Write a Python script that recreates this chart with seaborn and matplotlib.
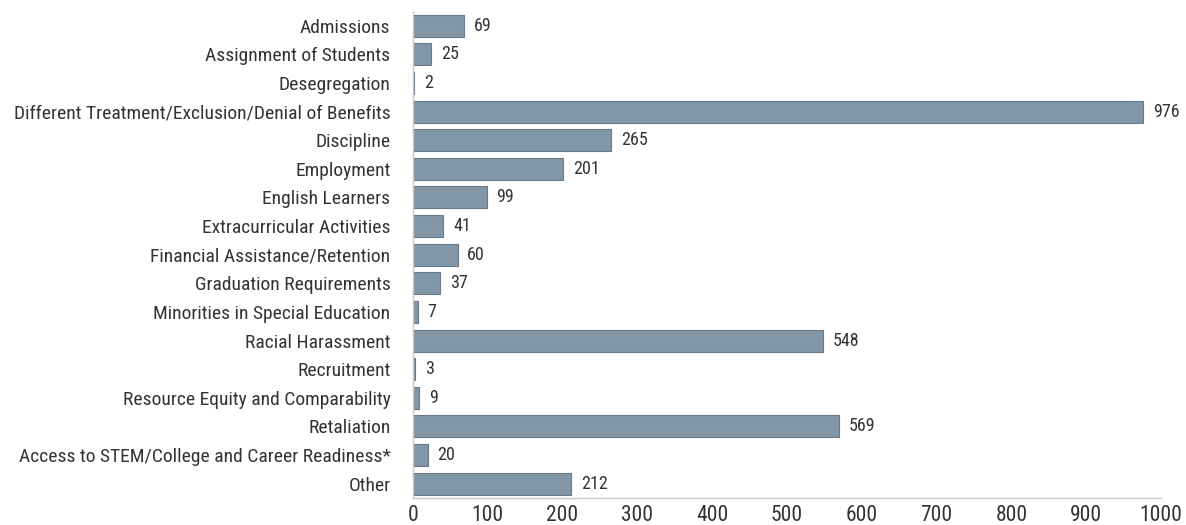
import matplotlib
matplotlib.use("Agg")
import matplotlib.pyplot as plt
import seaborn as sns
import pandas as pd
from matplotlib import font_manager

categories = [
    "Admissions", "Assignment of Students", "Desegregation",
    "Different Treatment/Exclusion/Denial of Benefits", "Discipline",
    "Employment", "English Learners", "Extracurricular Activities",
    "Financial Assistance/Retention", "Graduation Requirements",
    "Minorities in Special Education", "Racial Harassment", "Recruitment",
    "Resource Equity and Comparability", "Retaliation",
    "Access to STEM/College and Career Readiness*", "Other",
]
values = [69, 25, 2, 976, 265, 201, 99, 41, 60, 37, 7, 548, 3, 9, 569, 20, 212]
xticks = [0, 100, 200, 300, 400, 500, 600, 700, 800, 900, 1000]

sns.set_theme(style="white")
names = {f.name for f in font_manager.fontManager.ttflist}
fam = "DejaVu Sans"
for cand in ["Roboto Condensed", "Liberation Sans Narrow", "Archivo Narrow",
             "Barlow Semi Condensed", "Asap Condensed"]:
    if cand in names:
        fam = cand
        break
plt.rcParams["font.family"] = [fam, "DejaVu Sans"]

df = pd.DataFrame({"category": categories, "value": values})

fig = plt.figure(figsize=(11.86, 5.25), dpi=100)
ax = fig.add_axes([0.348, 0.0514, 0.631, 0.927])
sns.barplot(data=df, y="category", x="value", orient="h", color="#8197a8",
            saturation=1, width=0.77, edgecolor="#66798a", linewidth=0.8, ax=ax)

for i, v in enumerate(values):
    ax.annotate(str(v), xy=(v, i), xytext=(7, 0), textcoords="offset points",
                va="center", ha="left", fontsize=13, color="#333333")

ax.set_xlim(0, 1000)
ax.set_ylim(len(categories) - 0.5, -0.5)
ax.set_xticks(xticks)
ax.set_xticklabels([str(t) for t in xticks], fontsize=15.5, color="#333333")
ax.tick_params(axis="y", labelsize=14, labelcolor="#333333", length=0, pad=16)
ax.tick_params(axis="x", length=0, pad=5)
ax.set_xlabel("")
ax.set_ylabel("")
for s in ["top", "right"]:
    ax.spines[s].set_visible(False)
for s in ["left", "bottom"]:
    ax.spines[s].set_color("#c8c8c8")
    ax.spines[s].set_linewidth(1.0)

fig.savefig("out.png", dpi=100)
